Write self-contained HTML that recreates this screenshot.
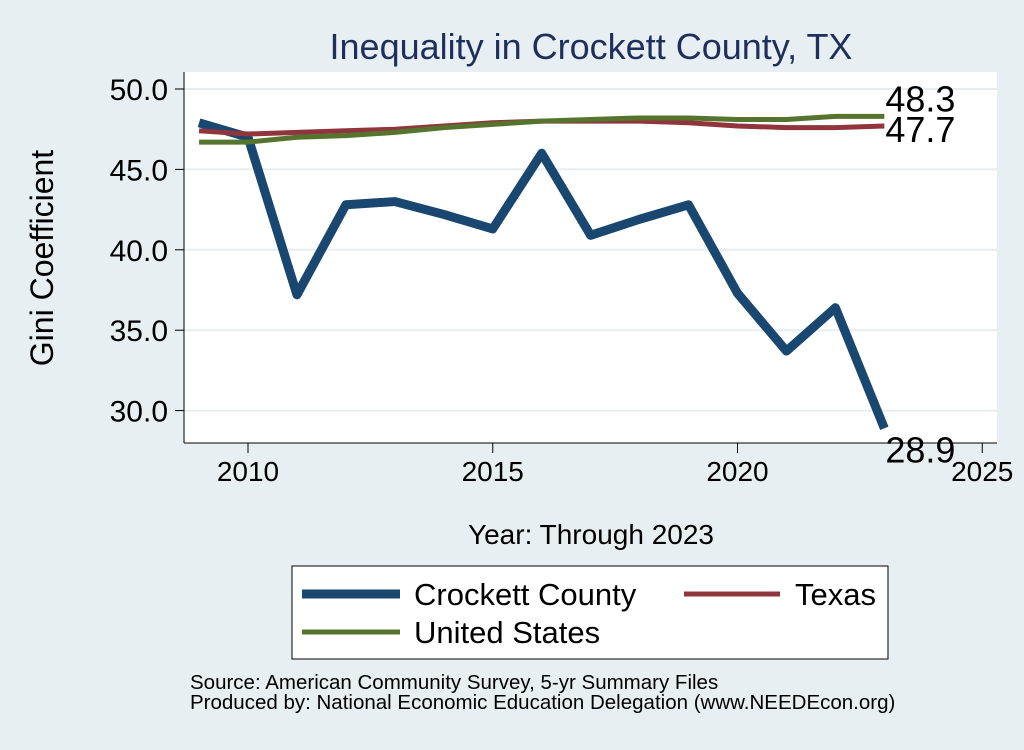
<!DOCTYPE html>
<html><head><meta charset="utf-8"><style>
body{margin:0;background:#e8eff3;font-family:"Liberation Sans",Arial,sans-serif}
svg text{font-family:"Liberation Sans",Arial,sans-serif}
</style></head><body>
<svg id="c" width="1024" height="745" xmlns="http://www.w3.org/2000/svg">
<rect width="1024" height="745" fill="#e8eff3"/>
</svg>
<script>
const years=[2009,2010,2011,2012,2013,2014,2015,2016,2017,2018,2019,2020,2021,2022,2023];
const crockett=[47.9,47.0,37.2,42.8,43.0,42.2,41.3,46.0,40.9,41.9,42.8,37.3,33.7,36.4,28.9];
const texas=[47.4,47.2,47.3,47.4,47.5,47.7,47.9,48.0,48.0,48.0,47.9,47.7,47.6,47.6,47.7];
const usa=[46.7,46.7,47.0,47.1,47.3,47.6,47.8,48.0,48.1,48.2,48.2,48.1,48.1,48.3,48.3];
const xTicks=[2010,2015,2020,2025];
const yTicks=[30,35,40,45,50];
const yTickLabels=["30.0","35.0","40.0","45.0","50.0"];
const NS="http://www.w3.org/2000/svg";
const svg=document.getElementById('c');
const L=184,R=997,T=72,B=443;
const xs=y=>248+(y-2010)*48.95;
const ys=v=>89+(50-v)*16.08;
function mk(tag,attrs,parent){const e=document.createElementNS(NS,tag);for(const k in attrs)e.setAttribute(k,attrs[k]);(parent||svg).appendChild(e);return e;}
const plot=mk('rect',{x:L,y:T,width:R-L,height:B-T,fill:'#ffffff'});


yTicks.forEach((v,i)=>{
  const g=mk('line',{x1:L,x2:R,y1:ys(v),y2:ys(v),stroke:'#e6edf1','stroke-width':2});
  
  
  mk('line',{x1:L-9,x2:L,y1:ys(v),y2:ys(v),stroke:'#000','stroke-width':1});
  const t=mk('text',{x:L-16,y:ys(v)+11,'text-anchor':'end','font-size':30});
  t.textContent=yTickLabels[i];
  
  
});
xTicks.forEach(v=>{
  mk('line',{x1:xs(v),x2:xs(v),y1:B,y2:B+10,stroke:'#000','stroke-width':1});
  const t=mk('text',{x:xs(v),y:B+38,'text-anchor':'middle','font-size':28});
  t.textContent=v;
  
  
});
mk('line',{x1:L,x2:L,y1:T,y2:B,stroke:'#000'});
mk('line',{x1:L,x2:R,y1:B,y2:B,stroke:'#000'});
function series(data,color,w,name){
  const p=mk('polyline',{points:data.map((v,i)=>xs(years[i])+','+ys(v)).join(' '),fill:'none',stroke:color,'stroke-width':w,'stroke-linejoin':'round','stroke-linecap':'butt'});
  
  
}
series(crockett,'#1a476f',9,'crockett-line');
series(texas,'#90353b',5,'texas-line');
series(usa,'#55752f',5,'us-line');
const last=years.length-1;
[[usa[last],-5,'us-end-label'],[texas[last],16,'texas-end-label'],[crockett[last],34,'crockett-end-label']].forEach(([v,dy,n])=>{
  const t=mk('text',{x:xs(years[last])+1,y:ys(v)+dy,'font-size':36});
  t.textContent=v.toFixed(1);
  
  
});
</script>
<svg width="1024" height="745" style="position:absolute;left:0;top:0">
<text x="591" y="59" text-anchor="middle" font-size="36" fill="#1e2f5c">Inequality in Crockett County, TX</text>
<text transform="translate(53,258) rotate(-90)" text-anchor="middle" font-size="32">Gini Coefficient</text>
<text x="591" y="544" text-anchor="middle" font-size="28">Year: Through 2023</text>
<g>
<rect x="292" y="566" width="596" height="93" fill="#fff" stroke="#000" stroke-width="1"/>
<line x1="302" x2="400" y1="594" y2="594" stroke="#1a476f" stroke-width="9"/>
<text x="414" y="605" font-size="31">Crockett County</text>
<line x1="684" x2="780" y1="594" y2="594" stroke="#90353b" stroke-width="5"/>
<text x="795" y="605" font-size="31">Texas</text>
<line x1="302" x2="400" y1="632" y2="632" stroke="#55752f" stroke-width="5"/>
<text x="414" y="643" font-size="31">United States</text>
</g>
<text x="190" y="689" font-size="20.5">Source: American Community Survey, 5-yr Summary Files</text>
<text x="190" y="709" font-size="20.5">Produced by: National Economic Education Delegation (www.NEEDEcon.org)</text>
</svg>
</body></html>
